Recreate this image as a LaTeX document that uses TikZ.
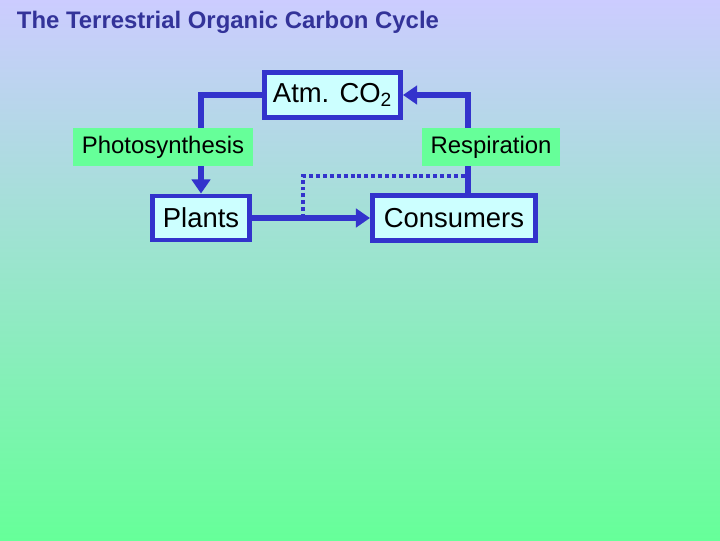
\documentclass[tikz,border=0pt]{standalone}
\usepackage{fontspec}
\setmainfont{Liberation Sans}
\usepackage{xcolor}
\usetikzlibrary{arrows.meta,positioning}
\definecolor{flowblue}{HTML}{3333CC}
\definecolor{titleblue}{HTML}{333399}
\definecolor{poolfill}{HTML}{CCFFFF}
\definecolor{procfill}{HTML}{66FF99}
\definecolor{bgtop}{HTML}{CCCCFF}
\definecolor{bgbottom}{HTML}{66FF99}
\tikzset{
  line cap=round,
  line join=round,
  pool/.style={draw=flowblue, line width=3.5pt, fill=poolfill, inner sep=0pt,
    font=\fontsize{19.5}{22}\selectfont, align=center},
  process/.style={fill=procfill, inner sep=0pt, font=\fontsize{17}{20}\selectfont},
  flow/.style={draw=flowblue, line width=3.8pt, line cap=butt, line join=miter},
  arrowflow/.style={flow, -{Triangle[length=10pt,width=13pt]}},
  dotflow/.style={draw=flowblue, line width=3.2pt, line cap=butt,
    dash pattern=on 2.8pt off 2.1pt}
}

\begin{document}
\begin{tikzpicture}[x=0.025cm, y=-0.025cm]
  \useasboundingbox (0,0) rectangle (720,540);
  \shade[top color=bgtop, bottom color=bgbottom] (0,0) rectangle (720,540);

  \node[anchor=west, text=titleblue, font=\fontsize{17}{20}\selectfont\bfseries]
    (title) at (12,22) {The Terrestrial Organic Carbon Cycle};

  % carbon pools
  \node[pool, minimum width=3.4cm, minimum height=1.125cm] (atm) at (332.5,95)
    {Atm. CO\textsubscript{2}};
  \node[pool, minimum width=2.425cm, minimum height=1.1cm] (plants) at (201,218)
    {Plants};
  \node[pool, minimum width=4.075cm, minimum height=1.125cm] (cons) at (454,218)
    {Consumers};

  \coordinate (branch) at (303,218);
  \coordinate (respjoin) at (468,176);

  % fluxes
  \draw[arrowflow] (atm.west) -| (plants.north);
  \draw[arrowflow] ([xshift=0.35cm]cons.north) |- (atm.east);
  \draw[arrowflow] (plants.east) -- (cons.west);
  \draw[dotflow] (branch) |- (respjoin);

  % process labels
  \node[process, minimum width=4.5cm, minimum height=0.95cm] (photo) at (163,147)
    {Photosynthesis};
  \node[process, minimum width=3.45cm, minimum height=0.95cm] (resp) at (491,147)
    {Respiration};
\end{tikzpicture}
\end{document}
